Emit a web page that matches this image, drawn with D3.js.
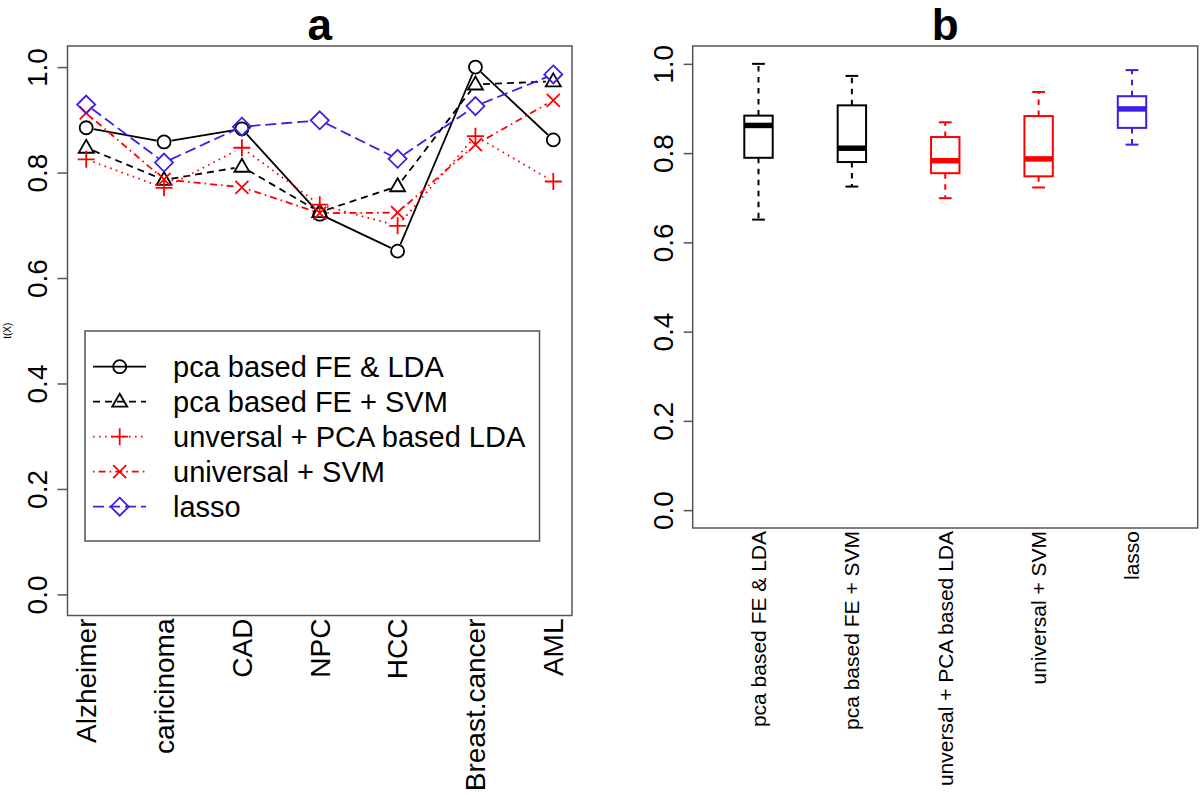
<!DOCTYPE html>
<html>
<head>
<meta charset="utf-8">
<script src="https://cdn.jsdelivr.net/npm/d3@7"></script>
<style>
  html, body { margin: 0; padding: 0; background: #fff; }
  svg { display: block; font-family: "Liberation Sans", Arial, Helvetica, sans-serif; }
</style>
</head>
<body>
<svg id="chart" width="1200" height="795"></svg>
<script>
// ---------------- data ----------------
const categories = ["Alzheimer", "caricinoma", "CAD", "NPC", "HCC", "Breast.cancer", "AML"];
const seriesNames = ["pca based FE & LDA", "pca based FE + SVM", "unversal + PCA based LDA", "universal + SVM", "lasso"];
const pcaLDA  = [0.885, 0.858, 0.883, 0.721, 0.651, 1.000, 0.862];
const pcaSVM  = [0.847, 0.786, 0.811, 0.725, 0.774, 0.967, 0.973];
const univLDA = [0.825, 0.771, 0.847, 0.739, 0.699, 0.869, 0.783];
const univSVM = [0.913, 0.787, 0.772, 0.723, 0.724, 0.853, 0.937];
const lasso   = [0.929, 0.819, 0.887, 0.899, 0.826, 0.926, 0.986];
const yTicks = [0, 0.2, 0.4, 0.6, 0.8, 1.0];
const panelTitles = ["a", "b"];
const yLabelA = "t(X)";

// ---------------- styles ----------------
const RED = "#ff0000", BLUE = "#3c1ee6", BLACK = "#000000", FRAME = "#555555";
const styles = [
  { color: BLACK, dash: null,        pch: "circle"   },
  { color: BLACK, dash: "7,5",       pch: "triangle" },
  { color: RED,   dash: "1.6,4.4",   pch: "plus"     },
  { color: RED,   dash: "1.6,4,7,4", pch: "x"        },
  { color: BLUE,  dash: "11,5",      pch: "diamond"  }
];
const seriesValues = [pcaLDA, pcaSVM, univLDA, univSVM, lasso];
const boxColors = [BLACK, BLACK, RED, RED, BLUE];

function markerPath(type) {
  const p = d3.path();
  if (type === "circle") { p.moveTo(6.5, 0); p.arc(0, 0, 6.5, 0, 2 * Math.PI); }
  else if (type === "triangle") { p.moveTo(0, -8); p.lineTo(7.5, 5); p.lineTo(-7.5, 5); p.closePath(); }
  else if (type === "plus") { p.moveTo(-8.5, 0); p.lineTo(8.5, 0); p.moveTo(0, -8.5); p.lineTo(0, 8.5); }
  else if (type === "x") { p.moveTo(-6.5, -6.5); p.lineTo(6.5, 6.5); p.moveTo(-6.5, 6.5); p.lineTo(6.5, -6.5); }
  else if (type === "diamond") { p.moveTo(0, -9); p.lineTo(9, 0); p.lineTo(0, 9); p.lineTo(-9, 0); p.closePath(); }
  return p.toString();
}

const svg = d3.select("#chart");
const FONT_A = 28;

// ================= Panel a =================
const A = { left: 67.5, right: 572, top: 46, bottom: 615.5 };
const xA = d3.scalePoint().domain(categories).range([86.2, 553.3]);
const yA = d3.scaleLinear().domain([-0.04, 1.04]).range([A.bottom, A.top]);

const gA = svg.append("g");
// lines (type = "b": gaps around points)
const GAP = 7.5;
seriesValues.forEach((vals, si) => {
  const st = styles[si];
  const pts = vals.map((v, i) => [xA(categories[i]), yA(v)]);
  for (let i = 0; i < pts.length - 1; i++) {
    const [x1, y1] = pts[i], [x2, y2] = pts[i + 1];
    const L = Math.hypot(x2 - x1, y2 - y1);
    if (L <= 2 * GAP) continue;
    const ux = (x2 - x1) / L, uy = (y2 - y1) / L;
    gA.append("line")
      .attr("x1", x1 + ux * GAP).attr("y1", y1 + uy * GAP)
      .attr("x2", x2 - ux * GAP).attr("y2", y2 - uy * GAP)
      .attr("stroke", st.color).attr("stroke-width", 1.8)
      .attr("stroke-dasharray", st.dash);
  }
  gA.selectAll(null).data(pts).enter().append("path")
    .attr("transform", d => `translate(${d[0]},${d[1]})`)
    .attr("d", markerPath(st.pch))
    .attr("fill", "none").attr("stroke", st.color).attr("stroke-width", 1.8);
});

// frame
gA.append("rect").attr("x", A.left).attr("y", A.top)
  .attr("width", A.right - A.left).attr("height", A.bottom - A.top)
  .attr("fill", "none").attr("stroke", FRAME).attr("stroke-width", 1.5);

// y axis
const axA = gA.append("g").attr("transform", `translate(${A.left},0)`)
  .call(d3.axisLeft(yA).tickValues(yTicks).tickSize(10).tickFormat(d3.format(".1f")));
axA.select(".domain").remove();
axA.selectAll(".tick line").attr("stroke", FRAME).attr("stroke-width", 1.5);
axA.selectAll(".tick text")
  .attr("x", 0).attr("y", -20.5).attr("dy", 0)
  .attr("transform", "rotate(-90)")
  .attr("text-anchor", "middle")
  .attr("font-size", FONT_A).attr("fill", "#000");

// x labels
gA.selectAll(null).data(categories).enter().append("text")
  .attr("transform", d => `translate(${xA(d)},${A.bottom + 3}) rotate(-90)`)
  .attr("text-anchor", "end").attr("dy", "0.35em")
  .attr("font-size", FONT_A).text(d => d);

// y label
gA.append("text").attr("transform", `translate(11,${(A.top + A.bottom) / 2}) rotate(-90)`)
  .attr("text-anchor", "middle").attr("font-size", 10).text(yLabelA);

// title
gA.append("text").attr("x", (A.left + A.right) / 2).attr("y", 40)
  .attr("text-anchor", "middle").attr("font-size", 44).attr("font-weight", "bold")
  .text(panelTitles[0]);

// legend
const LG = { left: 85, right: 539.5, top: 331, bottom: 541 };
gA.append("rect").attr("x", LG.left).attr("y", LG.top)
  .attr("width", LG.right - LG.left).attr("height", LG.bottom - LG.top)
  .attr("fill", "#fff").attr("stroke", FRAME).attr("stroke-width", 1.5);
const legRow = d3.scaleLinear().domain([0, 4]).range([366.7, 506.7]);
seriesNames.forEach((name, i) => {
  const st = styles[i];
  const y = legRow(i);
  gA.append("line").attr("x1", 93).attr("x2", 146).attr("y1", y).attr("y2", y)
    .attr("stroke", st.color).attr("stroke-width", 1.8).attr("stroke-dasharray", st.dash);
  gA.append("path").attr("transform", `translate(119.7,${y})`)
    .attr("d", markerPath(st.pch)).attr("fill", "none")
    .attr("stroke", st.color).attr("stroke-width", 1.8);
  gA.append("text").attr("x", 173).attr("y", y).attr("dy", "0.35em")
    .attr("font-size", 29).text(name);
});

// ================= Panel b =================
const B = { left: 692.7, right: 1197.7, top: 46, bottom: 528 };
const xB = d3.scalePoint().domain(seriesNames).range([758.5, 1132]);
const yB = d3.scaleLinear().domain([-0.04, 1.04]).range([B.bottom, B.top]);
const gB = svg.append("g");

const BOX_HALF = 14.2, STAPLE_HALF = 6.4;
seriesValues.forEach((vals, i) => {
  const s = vals.slice().sort(d3.ascending);
  const q1 = d3.quantile(s, 0.25), med = d3.quantile(s, 0.5), q3 = d3.quantile(s, 0.75);
  const lo = d3.min(s), hi = d3.max(s);
  const cx = xB(seriesNames[i]);
  const c = boxColors[i];
  // whiskers
  [[q3, hi], [q1, lo]].forEach(([a, b]) => {
    gB.append("line").attr("x1", cx).attr("x2", cx).attr("y1", yB(a)).attr("y2", yB(b))
      .attr("stroke", c).attr("stroke-width", 2).attr("stroke-dasharray", "5.5,5.5");
    gB.append("line").attr("x1", cx - STAPLE_HALF).attr("x2", cx + STAPLE_HALF)
      .attr("y1", yB(b)).attr("y2", yB(b)).attr("stroke", c).attr("stroke-width", 2);
  });
  gB.append("rect").attr("x", cx - BOX_HALF).attr("width", 2 * BOX_HALF)
    .attr("y", yB(q3)).attr("height", yB(q1) - yB(q3))
    .attr("fill", "#fff").attr("stroke", c).attr("stroke-width", 2);
  gB.append("line").attr("x1", cx - BOX_HALF).attr("x2", cx + BOX_HALF)
    .attr("y1", yB(med)).attr("y2", yB(med)).attr("stroke", c).attr("stroke-width", 5.5);
});

gB.append("rect").attr("x", B.left).attr("y", B.top)
  .attr("width", B.right - B.left).attr("height", B.bottom - B.top)
  .attr("fill", "none").attr("stroke", FRAME).attr("stroke-width", 1.5);

const axB = gB.append("g").attr("transform", `translate(${B.left},0)`)
  .call(d3.axisLeft(yB).tickValues(yTicks).tickSize(9).tickFormat(d3.format(".1f")));
axB.select(".domain").remove();
axB.selectAll(".tick line").attr("stroke", FRAME).attr("stroke-width", 1.5);
axB.selectAll(".tick text")
  .attr("x", 0).attr("y", -19.5).attr("dy", 0)
  .attr("transform", "rotate(-90)")
  .attr("text-anchor", "middle")
  .attr("font-size", FONT_A).attr("fill", "#000");

gB.selectAll(null).data(seriesNames).enter().append("text")
  .attr("transform", d => `translate(${xB(d)},${B.bottom + 3}) rotate(-90)`)
  .attr("text-anchor", "end").attr("dy", "0.35em")
  .attr("font-size", 21).text(d => d);

gB.append("text").attr("x", (B.left + B.right) / 2).attr("y", 40)
  .attr("text-anchor", "middle").attr("font-size", 44).attr("font-weight", "bold")
  .text(panelTitles[1]);
</script>
</body>
</html>
